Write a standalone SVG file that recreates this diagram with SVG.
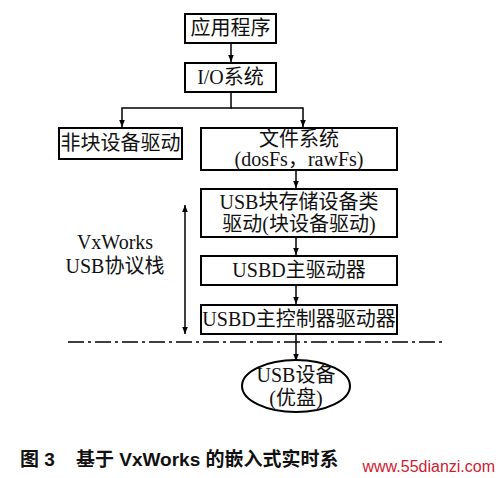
<svg xmlns="http://www.w3.org/2000/svg" width="500" height="478" viewBox="0 0 500 478">
<defs>
<style>
.box{fill:#fff;stroke:#000;stroke-width:2}
.t{font-family:"Liberation Serif","Noto Sans CJK SC",serif;font-size:20px;fill:#111;text-anchor:middle}
.ln{fill:none;stroke:#000;stroke-width:1.5}
.cap{font-family:"Liberation Sans","Noto Sans CJK SC",sans-serif;font-size:19px;font-weight:bold;fill:#111}
</style>
<marker id="ah" viewBox="0 0 10 10" refX="10" refY="5" markerWidth="7" markerHeight="9" markerUnits="userSpaceOnUse" orient="auto-start-reverse">
<path d="M0,1 L10,5 L0,9 Z" fill="#000"/>
</marker>
</defs>
<rect width="500" height="478" fill="#fff"/>
<g id="connectors">
<line class="ln" x1="231" y1="43" x2="231" y2="62" marker-end="url(#ah)"/>
<polyline class="ln" points="231,92 231,108 122,108 122,127" marker-end="url(#ah)"/>
<polyline class="ln" points="231,108 303,108 303,127" marker-end="url(#ah)"/>
<line class="ln" x1="296" y1="170" x2="296" y2="188" marker-end="url(#ah)"/>
<line class="ln" x1="296" y1="237" x2="296" y2="255" marker-end="url(#ah)"/>
<line class="ln" x1="296" y1="285" x2="296" y2="304" marker-end="url(#ah)"/>
<line class="ln" x1="296" y1="334" x2="296" y2="361" marker-end="url(#ah)"/>
<line class="ln" x1="185" y1="205" x2="185" y2="334" marker-start="url(#ah)" marker-end="url(#ah)"/>
<line x1="68" y1="342" x2="446" y2="342" stroke="#000" stroke-width="1.5" stroke-dasharray="16,4,3,4"/>
</g>
<g id="app"><rect class="box" x="185" y="14" width="91" height="29"/><text class="t" x="230.5" y="35">应用程序</text></g>
<g id="io"><rect class="box" x="185" y="63" width="91" height="29"/><text class="t" x="230.5" y="84">I/O系统</text></g>
<g id="nonblock"><rect class="box" x="59" y="128" width="123" height="31"/><text class="t" x="120.5" y="150">非块设备驱动</text></g>
<g id="fs"><rect class="box" x="201" y="128" width="196" height="42"/><text class="t" x="299" y="146">文件系统</text><text class="t" x="299" y="166">(dosFs，rawFs)</text></g>
<g id="usbmass"><rect class="box" x="201" y="189" width="196" height="48"/><text class="t" x="299" y="209">USB块存储设备类</text><text class="t" x="299" y="231">驱动(块设备驱动)</text></g>
<g id="usbd"><rect class="box" x="201" y="256" width="196" height="29"/><text class="t" x="299" y="277">USBD主驱动器</text></g>
<g id="hcd"><rect class="box" x="201" y="305" width="196" height="29"/><text class="t" x="299" y="326">USBD主控制器驱动器</text></g>
<g id="device"><ellipse cx="296" cy="386" rx="54" ry="26" fill="#fff" stroke="#000" stroke-width="2"/><text class="t" x="296" y="382">USB设备</text><text class="t" x="296" y="405">(优盘)</text></g>
<g id="stack"><text class="t" x="115" y="249">VxWorks</text><text class="t" x="115" y="273">USB协议栈</text></g>
<text class="cap" x="20" y="466" xml:space="preserve">图 3    基于 VxWorks 的嵌入式实时系</text>
<text x="495" y="472" text-anchor="end" font-family="Liberation Sans,sans-serif" font-size="16" fill="#d02030">www.55dianzi.com</text>
</svg>
